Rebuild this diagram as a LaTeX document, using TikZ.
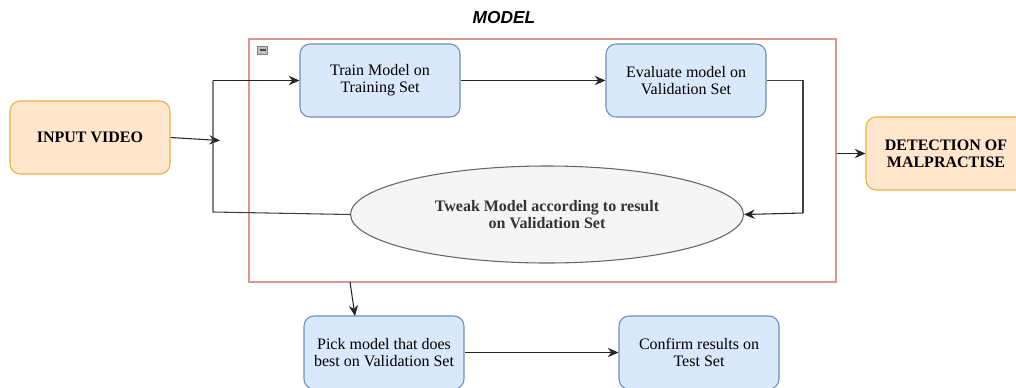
\documentclass[tikz,border=0pt]{standalone}
\usepackage{fontspec}
\setmainfont{Liberation Serif}
\newfontfamily\titlefont{Liberation Sans}
\usetikzlibrary{shapes.geometric,arrows.meta}
\definecolor{blueF}{HTML}{DAE8FC}
\definecolor{blueS}{HTML}{6C8EBF}
\definecolor{orF}{HTML}{FFE6CC}
\definecolor{orS}{HTML}{E5B545}
\definecolor{grF}{HTML}{F5F5F5}
\definecolor{grS}{HTML}{666666}
\definecolor{redS}{HTML}{D99694}
\tikzset{
  px/.style={x=0.75pt,y=-0.75pt},
  bluebox/.style={draw=blueS,fill=blueF,rounded corners=7.5pt,minimum width=120pt,minimum height=54.75pt,align=center,font=\fontsize{12}{13}\selectfont,line width=0.8pt,inner sep=0pt},
  orbox/.style={draw=orS,fill=orF,rounded corners=7.5pt,minimum width=120pt,minimum height=54.75pt,align=center,font=\bfseries\fontsize{12}{13}\selectfont,line width=0.8pt,inner sep=0pt},
  conn/.style={draw=black!85,line width=0.8pt,-{Stealth[length=8pt,width=7pt]}},
  plain/.style={draw=black!75,line width=0.8pt}
}
\begin{document}
\begin{tikzpicture}[px]
\useasboundingbox (0,0) rectangle (1016,387);
\begin{scope}
\clip (0,0) rectangle (1016,387);
% container
\node[draw=redS,line width=1pt,minimum width=440.25pt,minimum height=182.25pt,inner sep=0pt] (cont) at (542.5,160.5) {};
\node[draw=black!50,fill=black!25,minimum width=7.5pt,minimum height=6pt,inner sep=0pt] (icon) at (262.5,50) {};
\draw[black!70,line width=0.9pt] (259.5,50) -- (265.5,50);
\node[font=\titlefont\bfseries\itshape\fontsize{13}{15}\selectfont] (title) at (504,18) {MODEL};
% nodes
\node[orbox] (input) at (90,137.5) {INPUT VIDEO};
\node[bluebox] (train) at (380,80.5) {Train Model on\\Training Set};
\node[bluebox] (eval) at (686,80.5) {Evaluate model on\\Validation Set};
\node[orbox] (detect) at (946,153.5) {DETECTION OF\\MALPRACTISE};
\node[ellipse,draw=grS,fill=grF,line width=0.8pt,minimum width=294.75pt,minimum height=72.75pt,inner sep=0pt,align=center,font=\bfseries\fontsize{12}{13}\selectfont,text=black!80] (tweak) at (547,214.5) {Tweak Model according to result\\on Validation Set};
\node[bluebox] (pick) at (384,352.5) {Pick model that does\\best on Validation Set};
\node[bluebox] (confirm) at (699,352.5) {Confirm results on\\Test Set};
% connectors
\coordinate (j) at (213,140);
\coordinate (jtop) at (213,80.5);
\coordinate (jbot) at (213,212);
\coordinate (er) at (803,80.5);
\coordinate (erb) at (803,213);
\coordinate (cb) at (350,282);
\draw[conn] (input.east) -- (220,140.5);
\draw[plain] (tweak.west) -- (jbot) -- (jtop);
\draw[conn] (jtop) -- (train.west);
\draw[conn] (train.east) -- (eval.west);
\draw[plain] (eval.east) -- (er) -- (erb);
\draw[conn] (erb) -- (tweak.east);
\draw[conn] (cont.east |- detect.west) -- (detect.west);
\draw[conn] (cb) -- (355,316);
\draw[conn] (pick.east) -- (confirm.west);
\end{scope}
\end{tikzpicture}
\end{document}
